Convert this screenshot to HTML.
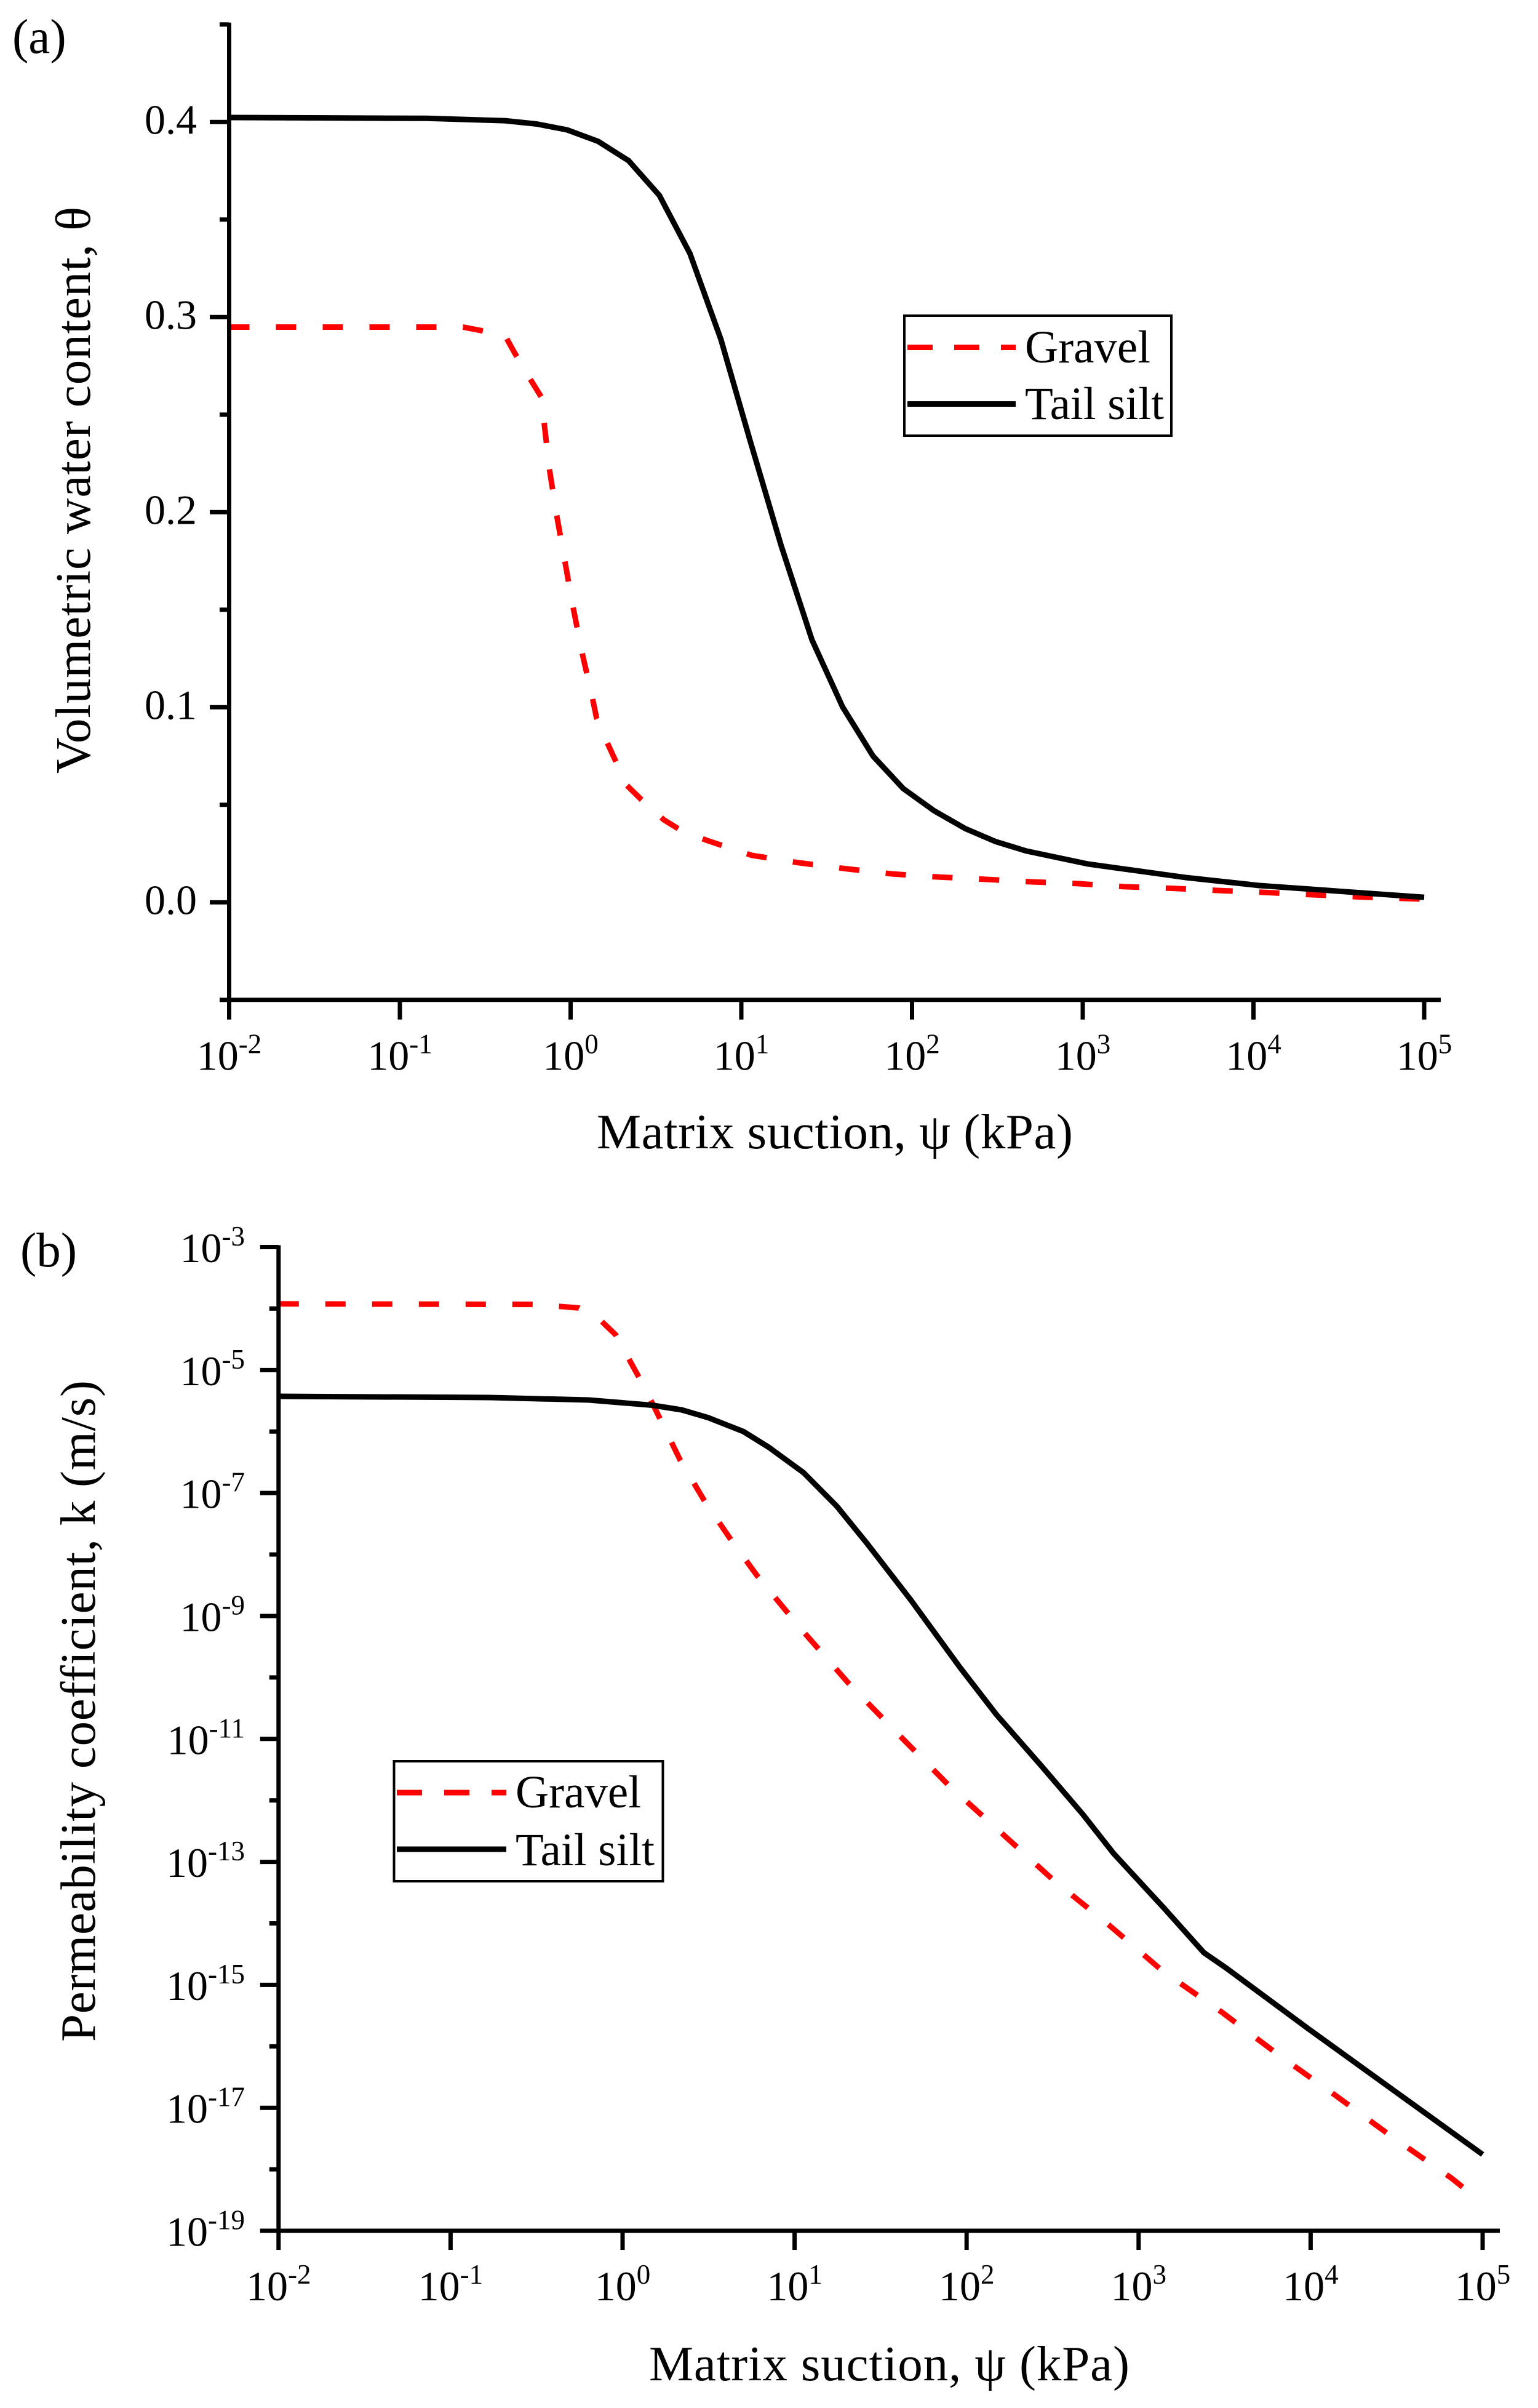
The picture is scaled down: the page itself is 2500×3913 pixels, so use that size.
<!DOCTYPE html>
<html lang="en">
<head>
<meta charset="utf-8">
<title>Water retention and permeability curves</title>
<style>
html,body{margin:0;padding:0;background:#fff;}
body{width:2500px;height:3913px;overflow:hidden;}
svg{display:block;}
text{font-family:"Liberation Serif",serif;fill:#000;font-variant-ligatures:none;}
.title{font-size:81px;}
.legend-text{font-size:75px;}
.panel-label{font-size:79px;}
.tick-label{font-size:68px;}
</style>
</head>
<body>
<svg id="figure" xmlns="http://www.w3.org/2000/svg" width="2500" height="3913" viewBox="0 0 2500 3913">
  <rect x="0" y="0" width="2500" height="3913" fill="#fff"/>

  <g id="panel-a"></g>
  <g id="panel-b"></g>

  <text class="panel-label" x="20" y="86">(a)</text>
  <text class="panel-label" x="33" y="2058">(b)</text>

  <text class="title" x="970" y="1866" textLength="774">Matrix suction, ψ (kPa)</text>
  <text class="title" transform="translate(146 1257) rotate(-90)" textLength="921">Volumetric water content, θ</text>
  <text class="title" x="1055" y="3868" textLength="781">Matrix suction, ψ (kPa)</text>
  <text class="title" transform="translate(154 3318) rotate(-90)" textLength="1075">Permeability coefficient, k (m/s)</text>

  <g>
    <rect x="1470" y="513" width="434" height="195" fill="#fff" stroke="#000" stroke-width="4"/>
    <line x1="1475" y1="564.5" x2="1651" y2="564.5" stroke="#f00" stroke-width="9" stroke-dasharray="41 35"/>
    <text class="legend-text" x="1666" y="589">Gravel</text>
    <line x1="1475" y1="656.5" x2="1651" y2="656.5" stroke="#000" stroke-width="9"/>
    <text class="legend-text" x="1666" y="681">Tail silt</text>
  </g>

  <g>
    <rect x="640.5" y="2862" width="437" height="195" fill="#fff" stroke="#000" stroke-width="4"/>
    <line x1="645" y1="2913" x2="823" y2="2913" stroke="#f00" stroke-width="9" stroke-dasharray="41 36"/>
    <text class="legend-text" x="838" y="2937">Gravel</text>
    <line x1="645" y1="3005" x2="823" y2="3005" stroke="#000" stroke-width="9"/>
    <text class="legend-text" x="838" y="3031">Tail silt</text>
  </g>
</svg>

<script>
// Shared x axis: decades of matric suction (kPa)
const xDecades = [-2, -1, 0, 1, 2, 3, 4, 5];

// Panel (a): volumetric water content
const thetaMajorTicks = [0.0, 0.1, 0.2, 0.3, 0.4];
const thetaMinorTicks = [-0.05, 0.05, 0.15, 0.25, 0.35, 0.45];
const thetaTickLabels = ["0.0", "0.1", "0.2", "0.3", "0.4"];

const gravelThetaLogPsi = [-2, -0.630, -0.529, -0.385, -0.327, -0.248, -0.172, -0.125, -0.082, -0.035, 0.012, 0.066, 0.127, 0.152, 0.213, 0.329, 0.412, 0.545, 0.644, 0.797, 1.061, 1.335, 1.607, 1.879, 2.153, 2.427, 2.699, 2.971, 3.245, 3.519, 3.790, 4.063, 4.337, 4.611, 4.882, 5];
const gravelTheta = [0.2949, 0.2949, 0.2932, 0.2906, 0.2815, 0.2698, 0.2591, 0.2226, 0.1988, 0.1756, 0.1525, 0.1285, 0.1051, 0.0945, 0.0821, 0.0600, 0.0529, 0.0424, 0.0370, 0.0318, 0.0241, 0.0203, 0.0173, 0.0146, 0.0130, 0.0118, 0.0105, 0.0096, 0.0080, 0.0072, 0.0061, 0.0051, 0.0039, 0.0028, 0.0020, 0.0017];

const siltThetaLogPsi = [-2, -0.843, -0.385, -0.198, -0.021, 0.161, 0.340, 0.520, 0.699, 0.880, 1.053, 1.234, 1.414, 1.593, 1.771, 1.949, 2.130, 2.312, 2.488, 2.670, 3.029, 3.604, 4.035, 5];
const siltTheta = [0.4023, 0.4019, 0.4007, 0.3990, 0.3960, 0.3901, 0.3802, 0.3624, 0.3326, 0.2887, 0.2362, 0.1827, 0.1345, 0.1002, 0.0750, 0.0583, 0.0469, 0.0378, 0.0312, 0.0263, 0.0197, 0.0127, 0.0086, 0.0026];

// Panel (b): permeability coefficient, log10 k (m/s)
const kMajorExponents = [-3, -5, -7, -9, -11, -13, -15, -17, -19];
const kMinorExponents = [-4, -6, -8, -10, -12, -14, -16, -18];

const gravelKLogPsi = [-2, -0.511, -0.255, -0.127, -0.041, 0.093, 0.187, 0.335, 0.478, 0.629, 0.786, 1.051, 1.316, 1.606, 1.892, 2.206, 2.500, 2.827, 3.140, 3.488, 3.808, 4.149, 4.472, 4.820, 5];
const gravelLogK = [-3.924, -3.932, -3.990, -4.194, -4.424, -5.107, -5.617, -6.466, -7.137, -7.756, -8.360, -9.256, -10.101, -10.932, -11.743, -12.538, -13.284, -14.025, -14.776, -15.452, -16.127, -16.807, -17.468, -18.146, -18.549];

const siltKLogPsi = [-2, -0.769, -0.197, 0.172, 0.343, 0.501, 0.701, 0.851, 1.052, 1.245, 1.421, 1.677, 1.960, 2.175, 2.436, 2.675, 2.854, 3.151, 3.379, 3.509, 3.988, 4.499, 5];
const siltLogK = [-5.427, -5.447, -5.487, -5.572, -5.647, -5.777, -5.998, -6.258, -6.668, -7.214, -7.819, -8.745, -9.831, -10.609, -11.443, -12.223, -12.861, -13.762, -14.475, -14.726, -15.716, -16.748, -17.758];

const NS = "http://www.w3.org/2000/svg";

// Axis functions
function xA(logPsi) { return 372.5 + (logPsi + 2) * 277.5; }
function yA(theta) { return 1466.3 - theta * 3170; }
function xB(logPsi) { return 452.8 + (logPsi + 2) * 279.6; }
function yB(logK) { return 2026.5 + (-3 - logK) * 99.91; }

function makeLine(parent, x1, y1, x2, y2) {
  const l = document.createElementNS(NS, "line");
  l.setAttribute("x1", x1);
  l.setAttribute("y1", y1);
  l.setAttribute("x2", x2);
  l.setAttribute("y2", y2);
  l.setAttribute("stroke", "#000");
  l.setAttribute("stroke-width", 7);
  parent.appendChild(l);
  return l;
}

function makeCurve(parent, xs, ys, xScale, yScale, color, dash) {
  const p = document.createElementNS(NS, "polyline");
  p.setAttribute("points", xs.map((v, i) => xScale(v).toFixed(1) + "," + yScale(ys[i]).toFixed(1)).join(" "));
  p.setAttribute("fill", "none");
  p.setAttribute("stroke", color);
  p.setAttribute("stroke-width", 9);
  p.setAttribute("stroke-linejoin", "round");
  if (dash) p.setAttribute("stroke-dasharray", dash);
  parent.appendChild(p);
  return p;
}

function makePowerLabel(parent, x, y, exponent, anchor) {
  const t = document.createElementNS(NS, "text");
  t.setAttribute("class", "tick-label");
  t.setAttribute("x", x);
  t.setAttribute("y", y);
  t.setAttribute("text-anchor", anchor);
  t.appendChild(document.createTextNode("10"));
  const s = document.createElementNS(NS, "tspan");
  s.setAttribute("dy", "-27");
  s.setAttribute("font-size", "45");
  s.textContent = String(exponent);
  t.appendChild(s);
  parent.appendChild(t);
  return t;
}

const panelA = document.getElementById("panel-a");
const panelB = document.getElementById("panel-b");

// ---------- Panel (a) ----------
const gravelCurveA = makeCurve(panelA, gravelThetaLogPsi, gravelTheta, xA, yA, "#f00", "33 43");



const siltCurveA = makeCurve(panelA, siltThetaLogPsi, siltTheta, xA, yA, "#000", null);



const yAxisA = makeLine(panelA, xA(-2), yA(0.45) - 3, xA(-2), yA(-0.05) + 3);



const xAxisA = makeLine(panelA, xA(-2) - 3, yA(-0.05), xA(5.097), yA(-0.05));



thetaMajorTicks.forEach((v, i) => {
  const tick = makeLine(panelA, xA(-2) - 31.5, yA(v), xA(-2), yA(v));
  
  
  const label = document.createElementNS(NS, "text");
  label.setAttribute("class", "tick-label");
  label.setAttribute("x", 320);
  label.setAttribute("y", yA(v) + 19);
  label.setAttribute("text-anchor", "end");
  label.textContent = thetaTickLabels[i];
  
  
  panelA.appendChild(label);
});

thetaMinorTicks.forEach((v) => {
  const tick = makeLine(panelA, xA(-2) - 15.5, yA(v), xA(-2), yA(v));
  
  
});

xDecades.forEach((d) => {
  const tick = makeLine(panelA, xA(d), yA(-0.05), xA(d), yA(-0.05) + 32);
  
  
  const label = makePowerLabel(panelA, xA(d), 1738.5, d, "middle");
  
  
});

// ---------- Panel (b) ----------
const gravelCurveB = makeCurve(panelB, gravelKLogPsi, gravelLogK, xB, yB, "#f00", "33 43");



const siltCurveB = makeCurve(panelB, siltKLogPsi, siltLogK, xB, yB, "#000", null);



const yAxisB = makeLine(panelB, xB(-2), yB(-3) - 3, xB(-2), yB(-19) + 3);



const xAxisB = makeLine(panelB, xB(-2) - 3, yB(-19), xB(5.1), yB(-19));



kMajorExponents.forEach((e) => {
  const tick = makeLine(panelB, xB(-2) - 30, yB(e), xB(-2), yB(e));
  
  
  const label = makePowerLabel(panelB, 398, yB(e) + 24.5, e, "end");
  
  
});

kMinorExponents.forEach((e) => {
  const tick = makeLine(panelB, xB(-2) - 15, yB(e), xB(-2), yB(e));
  
  
});

xDecades.forEach((d) => {
  const tick = makeLine(panelB, xB(d), yB(-19), xB(d), yB(-19) + 31);
  
  
  const label = makePowerLabel(panelB, xB(d), 3738, d, "middle");
  
  
});
</script>
</body>
</html>
